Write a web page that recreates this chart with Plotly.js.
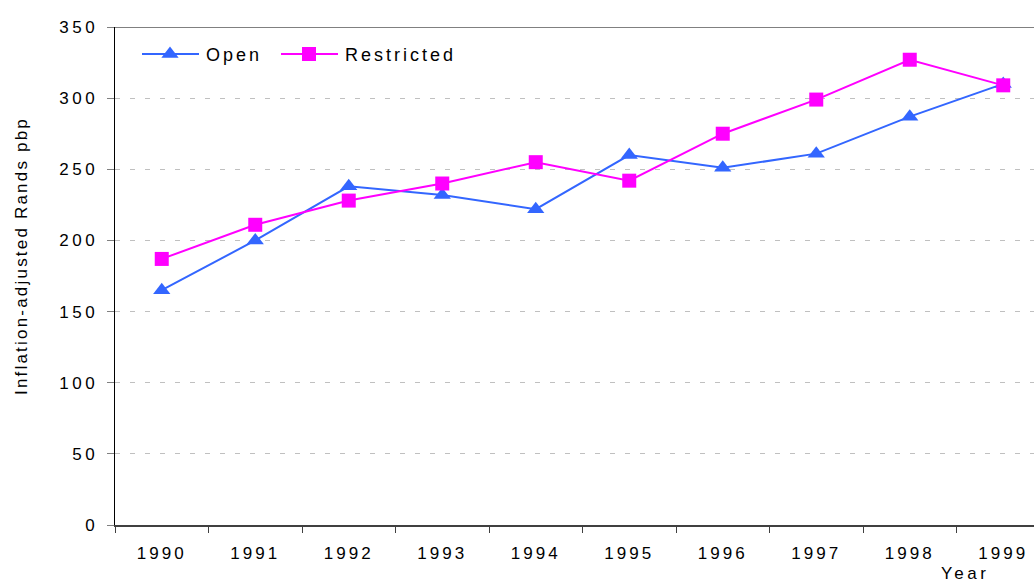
<!DOCTYPE html>
<html>
<head>
<meta charset="utf-8">
<script src="https://cdn.plot.ly/plotly-3.0.1.min.js"></script>
<style>
html,body{margin:0;padding:0;overflow:hidden;background:#fff;width:1034px;height:583px;}
#chart{width:1060px;height:583px;}
.xtick text{letter-spacing:3px;}
.ytick text{letter-spacing:3.5px;}
.legendtext{letter-spacing:3px;}
.ytitle{letter-spacing:2.2px;}
.annotation-text{letter-spacing:3.5px;}
</style>
</head>
<body>
<div id="chart"></div>
<script>
var years = ["1990","1991","1992","1993","1994","1995","1996","1997","1998","1999"];
var openValues = [165, 200, 238, 232, 222, 260, 251, 261, 287, 310];
var restrictedValues = [187, 211, 228, 240, 255, 242, 275, 299, 327, 309];
var yTickValues = [0, 50, 100, 150, 200, 250, 300, 350];

var traces = [
  {
    x: years, y: openValues, name: "Open", type: "scatter", mode: "lines+markers",
    line: {color: "#3366FF", width: 2},
    marker: {symbol: "triangle-up", size: 15, color: "#3366FF"}
  },
  {
    x: years, y: restrictedValues, name: "Restricted", type: "scatter", mode: "lines+markers",
    line: {color: "#FF00FF", width: 2},
    marker: {symbol: "square", size: 14, color: "#FF00FF"}
  }
];

var layout = {
  width: 1060, height: 583,
  margin: {l: 115, r: 10, t: 27, b: 58},
  paper_bgcolor: "#fff", plot_bgcolor: "#fff",
  font: {family: "Liberation Sans, Arial, sans-serif", color: "#000", size: 17},
  showlegend: true,
  legend: {
    orientation: "h", x: 0.02, y: 0.99, xanchor: "left", yanchor: "top",
    font: {size: 18, color: "#000"}, bgcolor: "rgba(0,0,0,0)", itemwidth: 52,
    entrywidth: 139, entrywidthmode: "pixels", tracegroupgap: 0
  },
  xaxis: {
    type: "category", range: [-0.5, 9.5],
    showline: true, linecolor: "#404040", linewidth: 2,
    ticks: "outside", ticklen: 6, tickcolor: "#404040", tickwidth: 1,
    tickson: "boundaries", ticklabelstandoff: 12,
    showgrid: false, zeroline: false,
    tickfont: {size: 17, color: "#000"},
    fixedrange: true
  },
  yaxis: {
    range: [0, 350], tickvals: yTickValues, ticktext: yTickValues.map(String),
    showline: true, linecolor: "#000", linewidth: 1.5,
    ticks: "outside", ticklen: 7, tickcolor: "#808080", tickwidth: 1,
    ticklabelstandoff: 5,
    showgrid: true, gridcolor: "#C0C0C0", griddash: "5px,10px", gridwidth: 1,
    zeroline: false,
    tickfont: {size: 17, color: "#000"},
    title: {text: "Inflation-adjusted Rands pbp", font: {size: 17, color: "#000"}, standoff: 30},
    fixedrange: true
  },
  shapes: [
    {type: "line", xref: "paper", yref: "y", x0: 0, x1: 1, y0: 350, y1: 350,
     line: {color: "#808080", width: 2}}
  ],
  annotations: [
    {text: "Year", xref: "paper", yref: "paper", x: 0.909, y: 0, yshift: -48,
     xanchor: "center", yanchor: "middle", showarrow: false,
     font: {size: 17, color: "#000"}}
  ]
};

Plotly.newPlot("chart", traces, layout, {displayModeBar: false, staticPlot: true}).then(function (gd) {
  // Legend: longer sample lines like the original, items placed as in reference
  var sb = gd.querySelector(".legend .scrollbox");
  if (sb) sb.removeAttribute("clip-path");
  var itemX = [142, 281];
  var itemY = 54;
  var groups = gd.querySelectorAll(".legend .traces");
  groups.forEach(function (g, i) {
    var m = g.parentNode.getScreenCTM();
    g.setAttribute("transform", "translate(" + (itemX[i] - m.e) + "," + (itemY - m.f) + ")");
    g.querySelectorAll(".legendlines path").forEach(function (p) { p.setAttribute("d", "M0,0h57"); });
    g.querySelectorAll(".legendpoints path").forEach(function (p) { p.setAttribute("transform", "translate(28,0)"); });
    var t = g.querySelector(".legendtext");
    if (t) t.setAttribute("x", 64);
  });
  // Y title position as in reference
  var yt = gd.querySelector(".g-ytitle");
  if (yt) {
    var r = yt.getBoundingClientRect();
    var cx = r.left + r.width / 2, cy = r.top + r.height / 2;
    yt.setAttribute("transform", "translate(" + (21 - cx) + "," + (256 - cy) + ")");
  }
});
</script>
</body>
</html>
